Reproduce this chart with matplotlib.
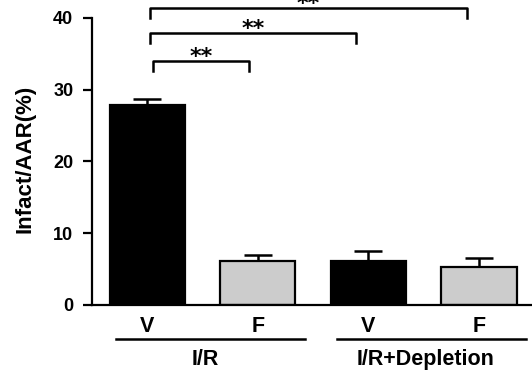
import matplotlib
matplotlib.use("Agg")
import matplotlib.pyplot as plt

plt.rcParams['font.family'] = ['Liberation Sans', 'DejaVu Sans']

tick_labels = ["V", "F", "V", "F"]
values = [27.8, 6.1, 6.1, 5.3]
errors = [0.9, 0.8, 1.4, 1.3]
colors = ["black", "#cccccc", "black", "#cccccc"]
groups = ["I/R", "I/R+Depletion"]
group_members = [(0, 1), (2, 3)]
comparisons = [(0, 1, "**"), (0, 2, "**"), (0, 3, "**")]
yticks = [0, 10, 20, 30, 40]

fig = plt.figure(figsize=(5.32, 3.75), dpi=100)
ax = fig.add_axes([0.173, 0.187, 0.827, 0.765])

x = list(range(len(values)))
ax.bar(x, values, width=0.68, color=colors, edgecolor="black", linewidth=1.6, zorder=2)
ax.errorbar(x, values, yerr=[[0]*len(errors), errors], fmt="none", ecolor="black",
            elinewidth=1.8, capsize=10, capthick=1.8, zorder=1)

ax.set_xlim(-0.5, 3.48)
ax.set_ylim(0, 40)
ax.set_yticks(yticks)
ax.set_yticklabels([str(t) for t in yticks], fontsize=13, fontweight="bold")
ax.set_xticks(x)
ax.set_xticklabels(tick_labels, fontsize=15.5, fontweight="bold")
ax.tick_params(axis="x", length=0, pad=8)
ax.tick_params(axis="y", length=6.5, width=1.6, pad=7)
for s in ["top", "right"]:
    ax.spines[s].set_visible(False)
for s in ["left", "bottom"]:
    ax.spines[s].set_linewidth(1.6)

ax.set_ylabel("Infact/AAR(%)", fontsize=16, fontweight="bold")
ax.yaxis.set_label_coords(-0.128, 0.51)

# group lines and labels
trans = ax.get_xaxis_transform()
for name, (a, b) in zip(groups, group_members):
    ax.plot([a - 0.28, b + 0.43], [-0.118, -0.118], color="black", lw=1.8,
            transform=trans, clip_on=False)
    ax.text((a + b) / 2 + 0.02, -0.19, name, transform=trans, ha="center", va="center",
            fontsize=15.5, fontweight="bold")

# significance brackets
levels = [34.0, 37.9, 41.4]
drop = 1.35
for (i, j, txt), lvl in zip(comparisons, levels):
    x0 = i + (0.05 if j == 1 else 0.02)
    x1 = j - 0.08 if j == 1 else j - 0.11
    ax.plot([x0, x0, x1, x1], [lvl - drop, lvl, lvl, lvl - drop], color="black",
            lw=1.8, clip_on=False)
    ax.text((x0 + x1) / 2, lvl - 0.8, txt, ha="center", va="bottom",
            fontsize=16, family="DejaVu Sans", fontweight="bold", clip_on=False)

fig.savefig("out.png", dpi=100)
